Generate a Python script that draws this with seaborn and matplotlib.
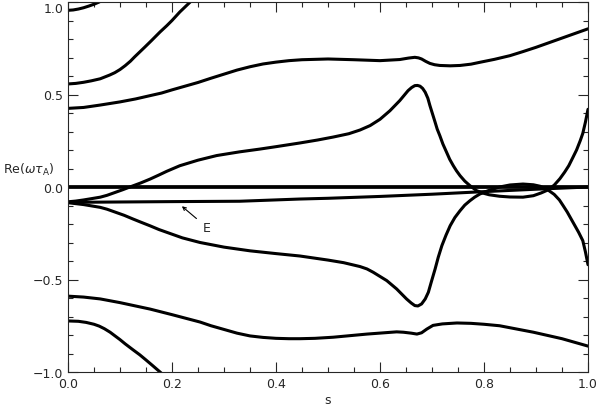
import numpy as np
import pandas as pd
import seaborn as sns
import matplotlib
matplotlib.use("Agg")
import matplotlib.pyplot as plt
from matplotlib.ticker import MultipleLocator

# branches of Re(omega tau_A) vs s
a_s = [0.0, 0.01, 0.02, 0.03, 0.04, 0.05, 0.06, 0.065]
a_re = [0.955, 0.957, 0.962, 0.969, 0.978, 0.988, 1.0, 1.01]

b_s = [0.0, 0.015, 0.03, 0.045, 0.062, 0.08, 0.09, 0.1, 0.11, 0.12, 0.128, 0.138, 0.148,
       0.16, 0.177, 0.19, 0.2, 0.215, 0.235, 0.245]
b_re = [0.557, 0.56, 0.566, 0.574, 0.585, 0.605, 0.618, 0.635, 0.656, 0.68, 0.703, 0.73, 0.757,
        0.79, 0.838, 0.872, 0.9, 0.946, 1.0, 1.03]

c_s = [0.0, 0.03, 0.062, 0.1, 0.13, 0.158, 0.18, 0.2, 0.225, 0.25, 0.275, 0.3, 0.325, 0.35,
       0.375, 0.4, 0.425, 0.45, 0.5, 0.55, 0.6, 0.638, 0.655, 0.667, 0.674, 0.68, 0.688,
       0.696, 0.705, 0.715, 0.735, 0.754, 0.775, 0.792, 0.82, 0.85, 0.875, 0.9, 0.925,
       0.95, 0.975, 1.0]
c_re = [0.425, 0.43, 0.443, 0.46, 0.476, 0.494, 0.508, 0.525, 0.545, 0.565, 0.588, 0.61, 0.632, 0.65,
        0.665, 0.675, 0.683, 0.688, 0.692, 0.688, 0.683, 0.689, 0.697, 0.701, 0.698, 0.692, 0.679,
        0.668, 0.661, 0.657, 0.655, 0.657, 0.664, 0.674, 0.69, 0.71, 0.732, 0.755, 0.78,
        0.805, 0.83, 0.855]

d_s = [0.0, 0.015, 0.03, 0.045, 0.062, 0.075, 0.09, 0.105, 0.119, 0.14, 0.158, 0.175, 0.19,
       0.215, 0.25, 0.286, 0.33, 0.369, 0.4, 0.446, 0.48, 0.51, 0.54, 0.5615, 0.581, 0.6,
       0.619, 0.638, 0.654, 0.661, 0.667, 0.672, 0.677, 0.682, 0.687, 0.692, 0.696, 0.701,
       0.706, 0.71, 0.715, 0.721, 0.728, 0.734, 0.741, 0.747, 0.754, 0.763, 0.773, 0.786,
       0.798, 0.81, 0.83, 0.85, 0.875, 0.895, 0.91, 0.923, 0.935, 0.946, 0.955, 0.963,
       0.971, 0.978, 0.985, 0.99, 0.995, 1.0]
d_re = [-0.08, -0.076, -0.07, -0.063, -0.055, -0.045, -0.03, -0.015, 0.0, 0.022, 0.043, 0.065, 0.085,
        0.115, 0.145, 0.17, 0.19, 0.205, 0.218, 0.238, 0.254, 0.27, 0.288, 0.308, 0.332, 0.366,
        0.412, 0.467, 0.521, 0.538, 0.548, 0.549, 0.545, 0.533, 0.512, 0.48, 0.44, 0.395,
        0.35, 0.313, 0.278, 0.232, 0.188, 0.15, 0.115, 0.088, 0.061, 0.032, 0.007, -0.02,
        -0.033, -0.042, -0.05, -0.054, -0.055, -0.047, -0.032, -0.016, 0.01, 0.045, 0.08, 0.115,
        0.16, 0.2, 0.25, 0.29, 0.35, 0.42]

e_s = [0.0, 0.015, 0.03, 0.045, 0.062, 0.075, 0.09, 0.108, 0.125, 0.14, 0.158, 0.175, 0.19,
       0.22, 0.254, 0.3, 0.35, 0.4, 0.446, 0.5, 0.53, 0.5615, 0.575, 0.587, 0.613, 0.632, 0.651, 0.66,
       0.667, 0.673, 0.68, 0.687, 0.693, 0.699, 0.706, 0.712, 0.719, 0.727, 0.735, 0.744,
       0.754, 0.763, 0.773, 0.782, 0.792, 0.808, 0.83, 0.85, 0.875, 0.895, 0.908, 0.923,
       0.935, 0.945, 0.952, 0.96, 0.968, 0.975, 0.982, 0.99, 0.995, 1.0]
e_re = [-0.085, -0.09, -0.095, -0.102, -0.11, -0.12, -0.135, -0.153, -0.173, -0.19, -0.21, -0.23, -0.245,
        -0.275, -0.3, -0.325, -0.345, -0.36, -0.373, -0.395, -0.409, -0.43, -0.443, -0.461, -0.506, -0.551, -0.605, -0.627,
        -0.641, -0.643, -0.632, -0.605, -0.569, -0.51, -0.443, -0.38, -0.317, -0.26, -0.209, -0.165,
        -0.128, -0.098, -0.074, -0.055, -0.038, -0.02, 0.0, 0.011, 0.016, 0.012, 0.004, -0.016,
        -0.04, -0.07, -0.1, -0.135, -0.175, -0.21, -0.245, -0.29, -0.35, -0.42]

# the "E" branch
f_s = [0.0, 0.1, 0.2, 0.33, 0.446, 0.5, 0.6, 0.7, 0.8, 0.9, 1.0]
f_re = [-0.083, -0.081, -0.079, -0.077, -0.065, -0.061, -0.051, -0.039, -0.025, -0.012, 0.0]

g_s = [0.0, 0.03, 0.062, 0.1, 0.158, 0.2, 0.254, 0.275, 0.3, 0.325, 0.35, 0.375, 0.4, 0.425,
       0.446, 0.475, 0.51, 0.575, 0.632, 0.645, 0.66, 0.671, 0.68, 0.69, 0.702, 0.72, 0.748,
       0.775, 0.8, 0.83, 0.895, 0.95, 1.0]
g_re = [-0.59, -0.595, -0.605, -0.625, -0.66, -0.69, -0.73, -0.75, -0.77, -0.79, -0.805, -0.813, -0.818, -0.82,
        -0.82, -0.818, -0.812, -0.795, -0.783, -0.785, -0.79, -0.795, -0.788, -0.768, -0.748, -0.74, -0.735,
        -0.737, -0.742, -0.75, -0.785, -0.82, -0.86]

h_s = [0.0, 0.02, 0.035, 0.05, 0.06, 0.07, 0.081, 0.09, 0.1, 0.11, 0.125, 0.138, 0.15, 0.163, 0.177, 0.185]
h_re = [-0.724, -0.726, -0.732, -0.742, -0.752, -0.766, -0.785, -0.804, -0.825, -0.848, -0.88, -0.907, -0.935, -0.966, -1.0, -1.02]

zero_s = [0.0, 1.0]
zero_re = [0.0, 0.0]

curves = {"A": (a_s, a_re), "B": (b_s, b_re), "C": (c_s, c_re), "D": (d_s, d_re),
          "D2": (e_s, e_re), "E": (f_s, f_re), "F": (g_s, g_re), "G": (h_s, h_re)}

sns.set_style("ticks")
plt.rcParams['font.family'] = ['DejaVu Sans']

fig = plt.figure(figsize=(6, 4.1), dpi=100)
ax = fig.add_axes([68 / 600, 37 / 410, 520 / 600, 370 / 410])

for name, (s, re) in curves.items():
    df = pd.DataFrame({"s": s, "re": re})
    sns.lineplot(data=df, x="s", y="re", sort=False, estimator=None,
                 color="black", lw=2.2, ax=ax)
sns.lineplot(x=zero_s, y=zero_re, color="black", lw=2.7, ax=ax)

ax.annotate("E", xy=(0.219, -0.104), xytext=(0.267, -0.218), ha="center", va="center",
            fontsize=9,
            arrowprops=dict(arrowstyle="->", color="black", lw=0.8,
                            mutation_scale=6, shrinkA=3, shrinkB=0))

ax.set_xlim(0, 1)
ax.set_ylim(-1, 1)
ax.xaxis.set_major_locator(MultipleLocator(0.2))
ax.xaxis.set_minor_locator(MultipleLocator(0.05))
ax.yaxis.set_major_locator(MultipleLocator(0.5))
ax.yaxis.set_minor_locator(MultipleLocator(0.1))
ax.tick_params(which="both", direction="in", top=True, right=True, labelsize=9, width=0.8)
ax.tick_params(which="major", length=7)
ax.tick_params(which="minor", length=3.5)
ax.xaxis.set_major_formatter(lambda v, p: f"{v:.1f}")
ax.yaxis.set_major_formatter(lambda v, p: f"{v:.1f}".replace("-", "\u2212"))
for sp in ax.spines.values():
    sp.set_linewidth(0.8)

# keep the top label inside the figure, as in the original
fig.canvas.draw()
for t in ax.yaxis.get_major_ticks():
    if abs(t.get_loc() - 1.0) < 1e-6:
        t.label1.set_verticalalignment("top")

ax.set_xlabel("s", fontsize=9, labelpad=2)
ax.set_ylabel(r"Re($\omega\tau_{\mathrm{A}}$)", fontsize=9, rotation=0, ha="left", va="center")
ax.yaxis.set_label_coords(-0.125, 0.549)

fig.savefig("out.png", dpi=100)
